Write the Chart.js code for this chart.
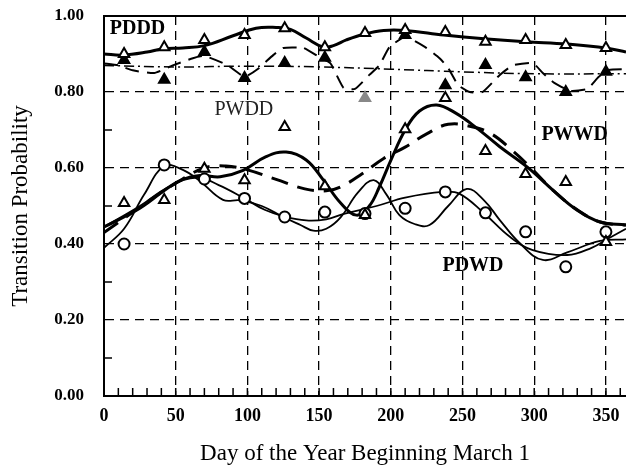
<!DOCTYPE html>
<html>
<head>
<meta charset="utf-8">
<script src="https://cdn.jsdelivr.net/npm/chart.js@4"></script>
<style>
  body { margin: 0; background: #fff; }
</style>
</head>
<body>
<canvas id="chart" width="626" height="471"></canvas>
<script>
// midpoints of the thirteen 28-day periods (day counted from March 1)
const periodDays = [14, 42, 70, 98, 126, 154, 182, 210, 238, 266, 294, 322, 350];

// observed transition probabilities per period
const pdddObs = [0.900, 0.918, 0.937, 0.950, 0.968, 0.918, 0.955, 0.963, 0.958, 0.932, 0.937, 0.924, 0.916];
const pwddObs = [0.884, 0.832, 0.905, 0.837, 0.876, 0.890, 0.784, 0.950, 0.818, 0.871, 0.839, 0.800, 0.853];
const pwwdObs = [0.508, 0.516, 0.598, 0.568, 0.708, 0.552, 0.476, 0.702, 0.784, 0.645, 0.584, 0.563, 0.405];
const pdwdObs = [0.400, 0.608, 0.571, 0.520, 0.471, 0.484, 0.480, 0.494, 0.537, 0.482, 0.432, 0.340, 0.432];

// fitted curves
const pdddFitDays = [0, 13, 30, 41, 55, 70, 90, 106, 120, 130, 141, 153, 160, 169, 181, 195, 210, 237, 265, 294, 323, 351, 364];
const pdddFit = [0.900, 0.897, 0.905, 0.914, 0.916, 0.922, 0.948, 0.968, 0.970, 0.965, 0.942, 0.918, 0.922, 0.937, 0.952, 0.962, 0.962, 0.950, 0.940, 0.932, 0.926, 0.915, 0.905];

const pwddDashDays = [0, 10, 20, 35, 48, 62, 70, 86, 98, 107, 118, 125, 139, 150, 158, 167, 175, 185, 192, 199, 210, 224, 234, 240, 247, 255, 264, 276, 285, 299, 306, 314, 325, 337, 345, 352, 364];
const pwddDash = [0.875, 0.870, 0.857, 0.850, 0.870, 0.889, 0.895, 0.871, 0.840, 0.860, 0.897, 0.916, 0.916, 0.892, 0.875, 0.811, 0.808, 0.845, 0.870, 0.918, 0.945, 0.918, 0.889, 0.863, 0.818, 0.800, 0.800, 0.845, 0.870, 0.876, 0.850, 0.824, 0.803, 0.808, 0.840, 0.858, 0.860];

const pwddSmoothDays = [0, 50, 100, 150, 200, 250, 300, 364];
const pwddSmooth = [0.870, 0.866, 0.868, 0.866, 0.860, 0.853, 0.848, 0.848];

const pwwdFitDays = [0, 25, 51, 67, 81, 97, 113, 127, 141, 153, 165, 176, 185, 192, 200, 210, 220, 232, 245, 260, 276, 295, 313, 330, 346, 364];
const pwwdFit = [0.445, 0.494, 0.563, 0.580, 0.577, 0.594, 0.630, 0.642, 0.621, 0.568, 0.508, 0.476, 0.500, 0.550, 0.620, 0.700, 0.750, 0.766, 0.745, 0.705, 0.656, 0.603, 0.542, 0.489, 0.458, 0.450];

const pwwdAltDays = [0, 30, 50, 70, 85, 100, 120, 140, 155, 165, 180, 195, 210, 225, 240, 255, 270, 285, 297, 313, 330, 346, 364];
const pwwdAlt = [0.430, 0.510, 0.560, 0.600, 0.605, 0.595, 0.570, 0.545, 0.540, 0.550, 0.585, 0.625, 0.655, 0.690, 0.715, 0.710, 0.690, 0.645, 0.603, 0.542, 0.490, 0.458, 0.450];

const pdwdFitDays = [0, 14, 28, 42, 55, 67, 83, 95, 110, 125, 137, 146, 155, 165, 177, 188, 197, 206, 217, 227, 240, 253, 265, 276, 290, 306, 323, 346, 364];
const pdwdFit = [0.390, 0.440, 0.530, 0.605, 0.595, 0.565, 0.516, 0.515, 0.500, 0.471, 0.450, 0.435, 0.440, 0.470, 0.535, 0.568, 0.530, 0.476, 0.452, 0.450, 0.500, 0.545, 0.515, 0.463, 0.402, 0.358, 0.378, 0.408, 0.412];

const pdwdAltDays = [0, 25, 45, 65, 80, 97, 112, 126, 141, 155, 168, 190, 210, 236, 248, 265, 283, 299, 323, 340, 352, 364];
const pdwdAlt = [0.445, 0.500, 0.550, 0.575, 0.555, 0.522, 0.490, 0.472, 0.462, 0.465, 0.480, 0.500, 0.522, 0.537, 0.532, 0.481, 0.419, 0.384, 0.371, 0.390, 0.415, 0.440];

const xTicks = [0, 50, 100, 150, 200, 250, 300, 350];

const pts = (xs, ys) => xs.map((x, i) => ({ x: x, y: ys[i] }));
const serif = 'Liberation Serif';

function markers(days, vals, style, fill, radius) {
  return {
    data: pts(days, vals),
    showLine: false,
    pointStyle: style,
    pointRadius: radius,
    pointBorderWidth: 2,
    pointBorderColor: '#000',
    pointBackgroundColor: fill
  };
}

function curve(days, vals, width, dash, tension) {
  return {
    data: pts(days, vals),
    showLine: true,
    pointRadius: 0,
    borderColor: '#000',
    borderWidth: width,
    borderDash: dash,
    tension: tension,
    fill: false
  };
}

// short inside ticks, top frame line and the curve names
const decorations = {
  id: 'decorations',
  beforeDatasetsDraw(chart) {
    const { ctx, chartArea: a, scales: { x, y } } = chart;
    ctx.save();
    ctx.strokeStyle = '#000';
    ctx.lineWidth = 1.5;
    ctx.beginPath();
    for (let d = 10; d <= 360; d += 10) {
      const px = x.getPixelForValue(d);
      ctx.moveTo(px, a.bottom);
      ctx.lineTo(px, a.bottom - 8);
    }
    for (let v = 0.1; v < 1; v += 0.2) {
      const py = y.getPixelForValue(v);
      ctx.moveTo(a.left, py);
      ctx.lineTo(a.left + 8, py);
    }
    ctx.stroke();
    ctx.lineWidth = 2;
    ctx.beginPath();
    ctx.moveTo(a.left, a.top);
    ctx.lineTo(a.right, a.top);
    ctx.stroke();
    ctx.restore();
  },
  afterDatasetsDraw(chart) {
    const { ctx, scales: { x, y } } = chart;
    const names = [
      { text: 'PDDD', day: 4, p: 0.966, bold: true, color: '#000' },
      { text: 'PWDD', day: 77, p: 0.753, bold: false, color: '#222' },
      { text: 'PWWD', day: 305, p: 0.687, bold: true, color: '#000' },
      { text: 'PDWD', day: 236, p: 0.342, bold: true, color: '#000' }
    ];
    ctx.save();
    ctx.textBaseline = 'middle';
    ctx.textAlign = 'left';
    names.forEach(n => {
      ctx.font = (n.bold ? 'bold ' : '') + '20px "' + serif + '"';
      ctx.fillStyle = n.color;
      ctx.fillText(n.text, x.getPixelForValue(n.day), y.getPixelForValue(n.p));
    });
    ctx.restore();
  }
};

new Chart(document.getElementById('chart'), {
  type: 'scatter',
  data: {
    datasets: [
      markers(periodDays, pdddObs, 'triangle', '#fff', 6),
      Object.assign(markers(periodDays, pwddObs, 'triangle', '#000', 6), {
        pointBackgroundColor: c => c.dataIndex === 6 ? '#888' : '#000',
        pointBorderColor: c => c.dataIndex === 6 ? '#888' : '#000'
      }),
      markers(periodDays, pwwdObs, 'triangle', '#fff', 6),
      markers(periodDays, pdwdObs, 'circle', '#fff', 5.5),
      curve(pdddFitDays, pdddFit, 3, [], 0.4),
      curve(pwddDashDays, pwddDash, 2, [14, 8], 0.15),
      curve(pwddSmoothDays, pwddSmooth, 1.5, [10, 4, 2, 4], 0.4),
      curve(pwwdFitDays, pwwdFit, 3, [], 0.4),
      curve(pwwdAltDays, pwwdAlt, 3, [17, 10], 0.4),
      curve(pdwdFitDays, pdwdFit, 1.8, [], 0.4),
      curve(pdwdAltDays, pdwdAlt, 1.8, [], 0.4)
    ]
  },
  options: {
    responsive: false,
    animation: false,
    devicePixelRatio: 1,
    layout: { autoPadding: false, padding: { top: 16, right: 0, left: 0, bottom: 0 } },
    plugins: {
      legend: { display: false },
      tooltip: { enabled: false }
    },
    scales: {
      x: {
        type: 'linear',
        min: 0,
        max: 364,
        afterFit: s => {
          s.height = 75;
          s.paddingLeft = 0;
          s.paddingRight = 0;
        },
        afterBuildTicks: s => { s.ticks = xTicks.map(v => ({ value: v })); },
        ticks: {
          padding: 10,
          color: '#000',
          font: { family: serif, size: 18, weight: 'bold' },
          maxRotation: 0
        },
        grid: {
          drawTicks: false,
          color: c => c.tick && c.tick.value === 0 ? 'rgba(0,0,0,0)' : '#000',
          lineWidth: 1.3
        },
        border: { display: true, color: '#000', width: 2, dash: [9, 6] },
        title: {
          display: true,
          text: 'Day of the Year Beginning March 1',
          color: '#000',
          font: { family: serif, size: 23 },
          padding: { top: 0, bottom: 3 }
        }
      },
      y: {
        min: 0,
        max: 1,
        afterFit: s => {
          s.width = 104;
          s.paddingTop = 0;
          s.paddingBottom = 0;
        },
        ticks: {
          stepSize: 0.2,
          padding: 20,
          color: '#000',
          font: { family: serif, size: 17, weight: 'bold' },
          callback: v => v.toFixed(2)
        },
        grid: {
          drawTicks: false,
          color: c => c.tick && (c.tick.value === 0 || c.tick.value === 1) ? 'rgba(0,0,0,0)' : '#000',
          lineWidth: 1.3
        },
        border: { display: true, color: '#000', width: 2, dash: [9, 6] },
        title: {
          display: true,
          text: 'Transition Probability',
          color: '#000',
          font: { family: serif, size: 23 },
          padding: { top: 7, bottom: 0 }
        }
      }
    }
  },
  plugins: [decorations]
});
</script>
</body>
</html>
